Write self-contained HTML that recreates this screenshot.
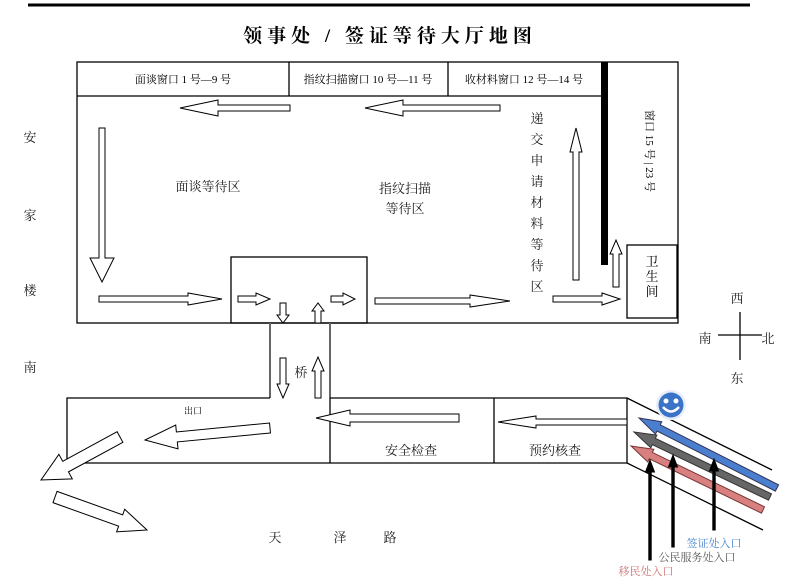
<!DOCTYPE html>
<html><head><meta charset="utf-8"><style>
body{margin:0;background:#fff;}
svg{display:block;font-family:"Liberation Serif","Noto Serif CJK SC","Noto Sans CJK SC",serif;}
</style></head><body>
<svg id="s" width="790" height="585" viewBox="0 0 790 585" xmlns="http://www.w3.org/2000/svg">
<line x1="28" y1="5" x2="750" y2="5" stroke="#000" stroke-width="3"/>
<text x="390" y="42" font-size="19" font-weight="bold" text-anchor="middle" letter-spacing="5">领事处 / 签证等待大厅地图</text>
<g fill="none" stroke="#000" stroke-width="1.3">
<rect x="77" y="62" width="601" height="261"/>
<line x1="77" y1="96" x2="605" y2="96"/>
<line x1="289" y1="62" x2="289" y2="96"/>
<line x1="448" y1="62" x2="448" y2="96"/>
<rect x="231" y="257" width="136" height="66"/>
<rect x="627" y="245" width="50" height="73"/>
<line x1="270" y1="323" x2="270" y2="398" stroke="#666" stroke-width="2"/>
<line x1="330" y1="323" x2="330" y2="398" stroke="#666" stroke-width="2"/>
<polyline points="270,398 67,398 67,463 627,463 627,398 330,398"/>
<line x1="330" y1="398" x2="330" y2="463"/>
<line x1="494" y1="398" x2="494" y2="463"/>
<line x1="627" y1="398" x2="772" y2="470"/>
<line x1="627" y1="463" x2="763" y2="530"/>
<line x1="740" y1="312" x2="740" y2="360"/>
<line x1="718" y1="335" x2="762" y2="335"/>
</g>
<rect x="601" y="62" width="7" height="203" fill="#000"/>
<g font-size="11" text-anchor="middle">
<text x="183" y="83">面谈窗口 1 号—9 号</text>
<text x="368" y="83">指纹扫描窗口 10 号—11 号</text>
<text x="524" y="83">收材料窗口 12 号—14 号</text>
</g>
<text transform="translate(646,110) rotate(90)" font-size="11">窗口 15 号 | 23 号</text>
<g font-size="13" text-anchor="middle">
<text x="652" y="266">卫</text><text x="652" y="281">生</text><text x="652" y="296">间</text>
</g>
<g font-size="13" text-anchor="middle" fill="#222">
<text x="208" y="191">面谈等待区</text>
<text x="405" y="193">指纹扫描</text>
<text x="405" y="213">等待区</text>
<text x="537" y="123">递</text><text x="537" y="144">交</text><text x="537" y="165">申</text><text x="537" y="186">请</text><text x="537" y="207">材</text><text x="537" y="228">料</text><text x="537" y="249">等</text><text x="537" y="270">待</text><text x="537" y="291">区</text>
<text x="30" y="142">安</text><text x="30" y="220">家</text><text x="30" y="295">楼</text><text x="30" y="372">南</text>
<text x="301" y="377">桥</text>
<text x="411" y="455">安全检查</text>
<text x="555" y="455">预约核查</text>
<text x="737" y="303">西</text><text x="737" y="383">东</text><text x="705" y="343">南</text><text x="768" y="343">北</text>
<text x="275" y="542">天</text><text x="340" y="542">泽</text><text x="390" y="542">路</text>
</g>
<text x="193" y="414" font-size="9" text-anchor="middle">出口</text>
<g id="arr" fill="#fff" stroke="#000" stroke-width="1"></g>
<g id="col"></g>
<circle cx="671" cy="405" r="15" fill="#e8eef8"/>
<circle cx="671" cy="405" r="12.5" fill="#3b73c8"/>
<circle cx="666" cy="401" r="2.5" fill="#fff"/><circle cx="676" cy="401" r="2.5" fill="#fff"/>
<path d="M663,407 Q671,416 679,407" stroke="#fff" stroke-width="2.5" fill="none"/>
<g font-size="11" text-anchor="middle">
<text x="714" y="547" fill="#3f7fcf">签证处入口</text>
<text x="697" y="561" fill="#555">公民服务处入口</text>
<text x="646" y="575" fill="#d07070">移民处入口</text>
</g>
<script>
var NS="http://www.w3.org/2000/svg";
function arrow(g,x1,y1,x2,y2,s,H,h,fill,stroke){
 var dx=x2-x1,dy=y2-y1,L=Math.hypot(dx,dy),a=Math.atan2(dy,dx)*180/Math.PI;
 var p=document.createElementNS(NS,"polygon");
 p.setAttribute("points",[[0,-s],[L-h,-s],[L-h,-H],[L,0],[L-h,H],[L-h,s],[0,s]].map(function(q){return q.join(",")}).join(" "));
 p.setAttribute("transform","translate("+x1+","+y1+") rotate("+a+")");
 if(fill){p.setAttribute("fill",fill);p.setAttribute("stroke",stroke||"none");p.setAttribute("stroke-width","1");}
 document.getElementById(g).appendChild(p);
}
var A=[[290,108,180,108,3,8,38],[500,108,365,108,3,8,38],[102,128,102,282,3,12,24],
[99,299,222,299,3,6,34],[238,299,270,299,3,6,14],[331,299,355,299,3,6,12],[375,301,510,301,3,6,40],[553,299,620,299,3,6,18],
[283,303,283,323,3,6,8],[318,323,318,303,3,6,8],[576,280,576,128,3,6,24],[616,287,616,240,3,6,14],
[283,358,283,398,3,6,14],[318,398,318,357,3,6,14],
[459,418,316,418,4,8,34],[627,422,498,422,3,6,38],[270,428,145,440,5,12,32],
[120,437,41,480,6,14,28],[55,497,147,530,6,12,28]];
A.forEach(function(a){arrow("arr",a[0],a[1],a[2],a[3],a[4],a[5],a[6]);});
arrow("col",777,488,639,418,3.5,7,22,"#4a7fcf","#335");
arrow("col",770,497,634,432,3.5,7,22,"#666","#333");
arrow("col",763,510,631,446,3.5,7,22,"#d88080","#733");
arrow("col",714,530,714,459,1.2,4.5,12,"#000","#000");
arrow("col",673,547,673,455,1.2,4.5,12,"#000","#000");
arrow("col",650,560,650,460,1.2,4.5,12,"#000","#000");
</script>
</svg>
</body></html>
